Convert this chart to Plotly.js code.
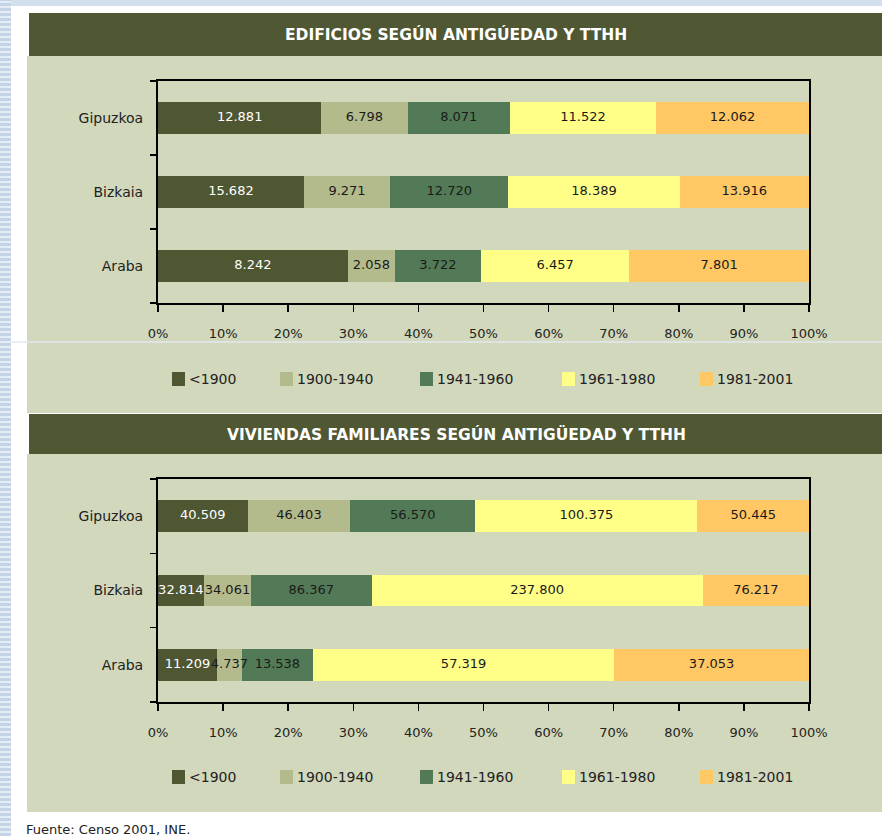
<!DOCTYPE html>
<html>
<head>
<meta charset="utf-8">
<script src="https://cdn.plot.ly/plotly-3.0.1.min.js"></script>
<style>html,body{margin:0;padding:0;background:#fff;}#chart{width:882px;height:836px;}</style>
</head>
<body>
<div id="chart"></div>
<script>
// ---------- DATA ----------
var provinces = ['Gipuzkoa', 'Bizkaia', 'Araba'];
var periods = ['<1900', '1900-1940', '1941-1960', '1961-1980', '1981-2001'];
var xTickVals = [0, 10, 20, 30, 40, 50, 60, 70, 80, 90, 100];
var xTickText = ['0%', '10%', '20%', '30%', '40%', '50%', '60%', '70%', '80%', '90%', '100%'];

var titleTop = 'EDIFICIOS SEGÚN ANTIGÚEDAD Y TTHH';
var titleBottom = 'VIVIENDAS FAMILIARES SEGÚN ANTIGÜEDAD Y TTHH';
var sourceText = 'Fuente: Censo 2001, INE.';

// Edificios (Gipuzkoa, Bizkaia, Araba)
var edif_lt1900    = [12881, 15682, 8242];
var edif_1900_1940 = [6798, 9271, 2058];
var edif_1941_1960 = [8071, 12720, 3722];
var edif_1961_1980 = [11522, 18389, 6457];
var edif_1981_2001 = [12062, 13916, 7801];

// Viviendas familiares (Gipuzkoa, Bizkaia, Araba)
var viv_lt1900    = [40509, 32814, 11209];
var viv_1900_1940 = [46403, 34061, 4737];
var viv_1941_1960 = [56570, 86367, 13538];
var viv_1961_1980 = [100375, 237800, 57319];
var viv_1981_2001 = [50445, 76217, 37053];

// ---------- STYLE ----------
var W = 882, H = 836;
function PX(x){ return x / W; }
function PY(y){ return 1 - y / H; }

var colors = ['#4f5632', '#b3bb8c', '#537a56', '#ffff88', '#ffc865'];
var textColors = ['#ffffff', '#1a1a1a', '#1a1a1a', '#1a1a1a', '#1a1a1a'];
var FONT = 'DejaVu Sans, Verdana, sans-serif';
var headerColor = '#4f5733';
var bodyColor = '#d2d8bc';

var edifSeries = [edif_lt1900, edif_1900_1940, edif_1941_1960, edif_1961_1980, edif_1981_2001];
var vivSeries = [viv_lt1900, viv_1900_1940, viv_1941_1960, viv_1961_1980, viv_1981_2001];

function fmt(v){ return String(v).replace(/\B(?=(\d{3})+(?!\d))/g, '.'); }

var traces = [];
var labelTraces = [];
function addSeries(series, xa, ya){
  // totals per province for 100% stacking positions of the labels
  var totals = provinces.map(function(_, j){
    return series.reduce(function(s, arr){ return s + arr[j]; }, 0);
  });
  var cum = provinces.map(function(){ return 0; });
  series.forEach(function(vals, i){
    traces.push({
      type: 'bar', orientation: 'h',
      y: provinces, x: vals,
      name: periods[i], xaxis: xa, yaxis: ya,
      marker: {color: colors[i], line: {width: 0}},
      hoverinfo: 'skip', showlegend: false
    });
    var mids = vals.map(function(v, j){
      var m = (cum[j] + v / 2) / totals[j] * 100;
      cum[j] += v;
      return m;
    });
    labelTraces.push({
      type: 'scatter', mode: 'text',
      x: mids, y: provinces, text: vals.map(fmt),
      xaxis: xa, yaxis: ya,
      textposition: 'middle center',
      textfont: {family: FONT, size: 13, color: textColors[i]},
      hoverinfo: 'skip', showlegend: false, cliponaxis: false
    });
  });
}
addSeries(edifSeries, 'x', 'y');
addSeries(vivSeries, 'x2', 'y2');
traces = traces.concat(labelTraces);

function xAxis(anchor){
  return {
    domain: [PX(158), PX(809)], anchor: anchor, range: [0, 100.0001],
    tickmode: 'array', tickvals: xTickVals, ticktext: xTickText,
    showline: true, linecolor: '#000', linewidth: 2, mirror: true,
    ticks: 'outside', ticklen: 7, tickwidth: 1.5, tickcolor: '#000',
    showgrid: false, zeroline: false, fixedrange: true,
    ticklabelstandoff: 10,
    tickfont: {family: FONT, size: 13, color: '#222'}
  };
}
function yAxis(y0, y1, anchor){
  return {
    domain: [PY(y1), PY(y0)], anchor: anchor, type: 'category',
    categoryorder: 'array', categoryarray: provinces.slice().reverse(),
    showline: true, linecolor: '#000', linewidth: 2, mirror: true,
    ticks: 'outside', tickson: 'boundaries', ticklen: 6, tickwidth: 1.5, tickcolor: '#000',
    showgrid: false, zeroline: false, fixedrange: true,
    ticklabelstandoff: 10,
    tickfont: {family: FONT, size: 14, color: '#222'}
  };
}

var shapes = [];
var annotations = [];
// page decoration
shapes.push({type:'rect', xref:'paper', yref:'paper', x0:0, x1:1, y0:PY(6), y1:1, fillcolor:'#d3dfec', line:{width:0}, layer:'below'});
shapes.push({type:'rect', xref:'paper', yref:'paper', x0:0, x1:PX(11), y0:0, y1:1, fillcolor:'#c4d4e6', line:{width:0}, layer:'below'});
for (var s = 2; s < H; s += 5) {
  shapes.push({type:'line', xref:'paper', yref:'paper', x0:0, x1:PX(11), y0:PY(s), y1:PY(s), line:{color:'#e4ecf5', width:2}, layer:'below'});
}
// panels
function panel(headerTop, headerBottom, bodyBottom, title){
  shapes.push({type:'rect', xref:'paper', yref:'paper', x0:PX(27), x1:1, y0:PY(bodyBottom), y1:PY(headerBottom), fillcolor:bodyColor, line:{width:0}, layer:'below'});
  shapes.push({type:'rect', xref:'paper', yref:'paper', x0:PX(29), x1:1, y0:PY(headerBottom), y1:PY(headerTop), fillcolor:headerColor, line:{width:0}, layer:'below'});
  annotations.push({xref:'paper', yref:'paper', x:PX(456), y:PY((headerTop+headerBottom)/2), text:'<b>'+title+'</b>', showarrow:false, xanchor:'center', yanchor:'middle', font:{family:FONT, size:15.5, color:'#ffffff'}});
}
panel(13, 56, 413, titleTop);
panel(414, 454, 812, titleBottom);
// faint scan line
shapes.push({type:'line', xref:'paper', yref:'paper', x0:PX(11), x1:1, y0:PY(342), y1:PY(342), line:{color:'#e2e9f0', width:1.5}, layer:'above'});

// legends
var legendX = [172, 280, 420, 562, 700];
function legend(yc){
  periods.forEach(function(p, i){
    shapes.push({type:'rect', xref:'paper', yref:'paper', x0:PX(legendX[i]), x1:PX(legendX[i]+13), y0:PY(yc+7), y1:PY(yc-7), fillcolor:colors[i], line:{width:0}});
    annotations.push({xref:'paper', yref:'paper', x:PX(legendX[i]+15), y:PY(yc), text:p.replace('<','&lt;'), showarrow:false, xanchor:'left', yanchor:'middle', font:{family:FONT, size:14, color:'#222'}});
  });
}
legend(379);
legend(777);

annotations.push({xref:'paper', yref:'paper', x:PX(24), y:PY(829), text:sourceText, showarrow:false, xanchor:'left', yanchor:'middle', font:{family:FONT, size:13, color:'#222'}});

var layout = {
  width: W, height: H,
  margin: {l:0, r:0, t:0, b:0, pad:0},
  paper_bgcolor: '#ffffff', plot_bgcolor: 'rgba(0,0,0,0)',
  barmode: 'stack', barnorm: 'percent', bargap: 0.57,
  showlegend: false,
  font: {family: FONT, color: '#222'},
  xaxis: xAxis('y'),
  yaxis: yAxis(81, 303, 'x'),
  xaxis2: xAxis('y2'),
  yaxis2: yAxis(479, 702, 'x2'),
  shapes: shapes,
  annotations: annotations
};

Plotly.newPlot('chart', traces, layout, {displayModeBar: false, staticPlot: true});
</script>
</body>
</html>
